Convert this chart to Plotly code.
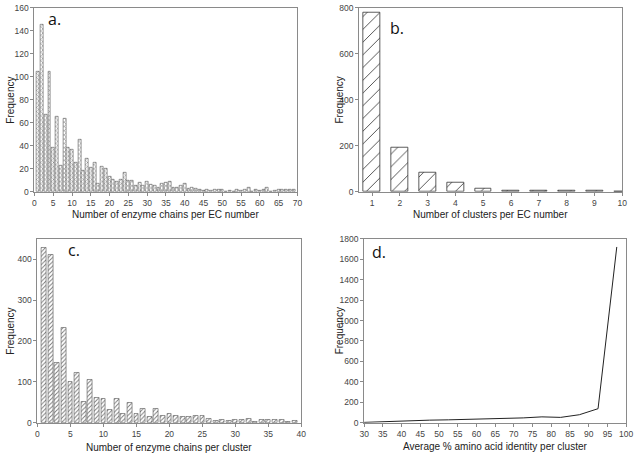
import plotly.graph_objects as go

# Panel a: number of enzyme chains per EC number
a_x = list(range(1, 70))
a_y = [104, 145, 67, 104, 38, 65, 23, 64, 38, 37, 25, 45, 18, 29, 21, 25, 7, 22, 20, 13,
       11, 9, 11, 17, 10, 10, 5, 8, 5, 9, 6, 5, 4, 7, 8, 9, 4, 4, 5, 7,
       3, 4, 3, 2, 1, 2, 1, 2, 2, 2, 0, 1, 0, 2, 1, 2, 4, 0, 2, 1,
       2, 4, 0, 1, 2, 2, 2, 2, 2]

# Panel b: number of clusters per EC number
b_x = [1, 2, 3, 4, 5, 6, 7, 8, 9, 10]
b_y = [778, 194, 83, 41, 15, 7, 7, 5, 7, 3]

# Panel c: number of enzyme chains per cluster
c_x = list(range(1, 40))
c_y = [428, 412, 146, 232, 100, 123, 50, 106, 62, 59, 31, 59, 23, 49, 23, 35, 14, 34, 16, 22,
       16, 14, 14, 17, 16, 10, 5, 7, 5, 7, 7, 10, 2, 8, 8, 8, 7, 3, 5]

# Panel d: average % amino acid identity per cluster
d_x = [27.5, 32.5, 37.5, 42.5, 47.5, 52.5, 57.5, 62.5, 67.5, 72.5, 77.5, 82.5, 87.5, 92.5, 97.5]
d_y = [0, 8, 16, 22, 25, 28, 32, 40, 45, 47, 57, 52, 78, 137, 1720]

W, H = 640, 459

def dom_x(x0, x1):
    return [x0 / W, x1 / W]

def dom_y(y0, y1):
    return [(H - y1) / H, (H - y0) / H]

fig = go.Figure()

fig.add_trace(go.Bar(x=a_x, y=a_y, width=0.78, xaxis="x", yaxis="y",
                     marker=dict(color="white", line=dict(color="#555555", width=0.6),
                                 pattern=dict(shape="x", size=3, solidity=0.3,
                                              fgcolor="#808080", bgcolor="white", fillmode="replace"))))
fig.add_trace(go.Bar(x=b_x, y=b_y, width=0.61, xaxis="x2", yaxis="y2",
                     marker=dict(color="white", line=dict(color="#333333", width=0.8),
                                 pattern=dict(shape="/", size=9, solidity=0.1,
                                              fgcolor="#444444", bgcolor="white", fillmode="replace"))))
fig.add_trace(go.Bar(x=c_x, y=c_y, width=0.75, xaxis="x3", yaxis="y3",
                     marker=dict(color="white", line=dict(color="#555555", width=0.6),
                                 pattern=dict(shape="/", size=3, solidity=0.3,
                                              fgcolor="#777777", bgcolor="white", fillmode="replace"))))
fig.add_trace(go.Scatter(x=d_x, y=d_y, mode="lines", xaxis="x4", yaxis="y4",
                         line=dict(color="#222222", width=1)))

tickfont = dict(family="Liberation Sans, Arial, sans-serif", size=8.5, color="#444444")
axcommon = dict(showgrid=False, zeroline=False, showline=True, linecolor="#8a8a8a", linewidth=1,
                mirror=True, ticks="outside", ticklen=3, tickcolor="#8a8a8a", tickwidth=1,
                tickfont=tickfont)

fig.update_layout(
    width=W, height=H, margin=dict(l=0, r=0, t=0, b=0),
    paper_bgcolor="white", plot_bgcolor="white", showlegend=False, bargap=0,
    xaxis=dict(domain=dom_x(30, 298), range=[0, 70], tick0=0, dtick=5, anchor="y", **axcommon),
    yaxis=dict(domain=dom_y(2.7, 191), range=[0, 160], tick0=0, dtick=20, anchor="x", **axcommon),
    xaxis2=dict(domain=dom_x(361, 629), range=[0.54, 10], tick0=1, dtick=1, anchor="y2", **axcommon),
    yaxis2=dict(domain=dom_y(2.7, 191), range=[0, 800], tick0=0, dtick=200, anchor="x2", **axcommon),
    xaxis3=dict(domain=dom_x(33, 302), range=[0, 40], tick0=0, dtick=5, anchor="y3", **axcommon),
    yaxis3=dict(domain=dom_y(239, 427), range=[0, 450], tickvals=[0, 100, 200, 300, 400], anchor="x3", **axcommon),
    xaxis4=dict(domain=dom_x(366, 633), range=[30, 100], tick0=30, dtick=5, anchor="y4", **axcommon),
    yaxis4=dict(domain=dom_y(239, 427), range=[0, 1800], tick0=0, dtick=200, anchor="x4", **axcommon),
)

titlefont = dict(family="Liberation Sans, Arial, sans-serif", size=10, color="#222222")
labelfont = dict(family="Open Sans, Liberation Sans, Arial, sans-serif", size=16, color="#111111")

def ann(text, x, y, font, angle=0, xanchor="center", yanchor="middle"):
    fig.add_annotation(text=text, x=x / W, y=(H - y) / H, xref="paper", yref="paper",
                       showarrow=False, font=font, textangle=angle,
                       xanchor=xanchor, yanchor=yanchor)

ann("Number of enzyme chains per EC number", 164, 214, titlefont)
ann("Number of clusters per EC number", 495, 214, titlefont)
ann("Number of enzyme chains per cluster", 167, 452, titlefont)
ann("Average % amino acid identity per cluster", 499, 451, titlefont)
ann("Frequency", 6, 97, titlefont, angle=-90)
ann("Frequency", 341, 97, titlefont, angle=-90)
ann("Frequency", 6, 333, titlefont, angle=-90)
ann("Frequency", 341, 333, titlefont, angle=-90)

ann("a.", 42, 14, labelfont, xanchor="left")
ann("b.", 390, 24, labelfont, xanchor="left")
ann("c.", 62, 250, labelfont, xanchor="left")
ann("d.", 372, 252, labelfont, xanchor="left")

fig.write_html("out.html", config={"displayModeBar": False},
               post_script="document.body.style.margin='0';document.body.style.padding='0';")
